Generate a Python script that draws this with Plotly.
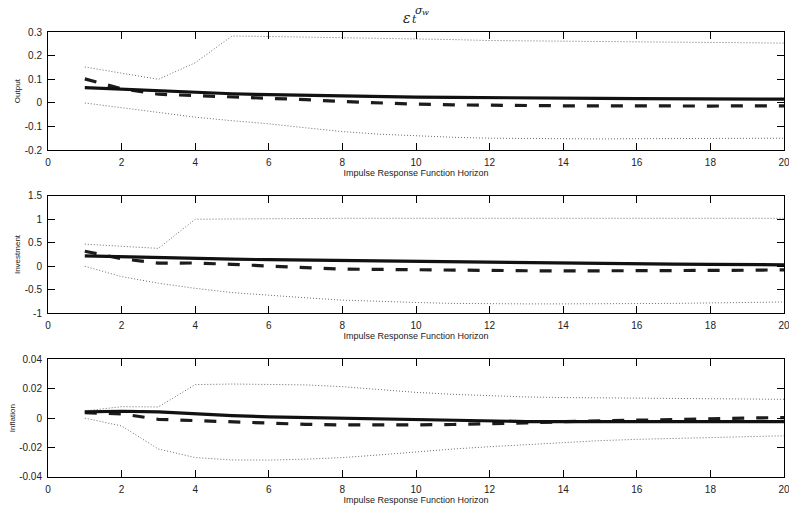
import plotly.graph_objects as go

horizon = list(range(1, 21))

output_solid = [0.065, 0.058, 0.050, 0.044, 0.039, 0.035, 0.032, 0.029, 0.027, 0.025,
                0.024, 0.022, 0.021, 0.020, 0.019, 0.018, 0.017, 0.017, 0.016, 0.016]
output_dashed = [0.102, 0.060, 0.037, 0.031, 0.027, 0.022, 0.014, 0.006, 0.0, -0.005,
                 -0.008, -0.010, -0.011, -0.012, -0.012, -0.013, -0.013, -0.013, -0.012, -0.012]
output_upper = [0.152, 0.126, 0.100, 0.170, 0.283, 0.281, 0.279, 0.277, 0.275, 0.272,
                0.268, 0.264, 0.262, 0.260, 0.259, 0.258, 0.257, 0.256, 0.255, 0.253]
output_lower = [0.0, -0.019, -0.040, -0.060, -0.075, -0.088, -0.105, -0.121, -0.132, -0.139,
                -0.145, -0.149, -0.151, -0.152, -0.152, -0.151, -0.151, -0.150, -0.150, -0.149]

invest_solid = [0.22, 0.20, 0.18, 0.165, 0.15, 0.14, 0.13, 0.12, 0.11, 0.10,
                0.09, 0.08, 0.07, 0.065, 0.06, 0.05, 0.045, 0.04, 0.035, 0.03]
invest_dashed = [0.32, 0.16, 0.065, 0.07, 0.04, 0.0, -0.03, -0.06, -0.07, -0.08,
                 -0.085, -0.09, -0.095, -0.1, -0.1, -0.1, -0.095, -0.09, -0.085, -0.075]
invest_upper = [0.47, 0.43, 0.38, 1.0, 1.01, 1.01, 1.015, 1.02, 1.02, 1.025,
                1.025, 1.025, 1.02, 1.02, 1.02, 1.02, 1.02, 1.02, 1.02, 1.02]
invest_lower = [0.0, -0.22, -0.36, -0.47, -0.56, -0.62, -0.67, -0.72, -0.75, -0.77,
                -0.79, -0.80, -0.80, -0.80, -0.80, -0.79, -0.79, -0.78, -0.77, -0.76]

infl_solid = [0.0042, 0.0047, 0.0042, 0.0028, 0.0017, 0.0009, 0.0004, 0.0, -0.0007, -0.0013,
              -0.0018, -0.0021, -0.0023, -0.0024, -0.0024, -0.0024, -0.0024, -0.0024, -0.0024, -0.0024]
infl_dashed = [0.0037, 0.0029, -0.0008, -0.0017, -0.0026, -0.0035, -0.0042, -0.0046, -0.0047, -0.0046,
               -0.0043, -0.0039, -0.0032, -0.0024, -0.0018, -0.0012, -0.0007, -0.0003, 0.0001, 0.0004]
infl_upper = [0.0049, 0.0078, 0.0076, 0.0228, 0.0232, 0.0231, 0.0226, 0.0214, 0.0195, 0.0175,
              0.0162, 0.0151, 0.0144, 0.0140, 0.0137, 0.0135, 0.0133, 0.0131, 0.0130, 0.0128]
infl_lower = [0.0, -0.0053, -0.021, -0.0268, -0.0284, -0.0285, -0.0279, -0.0268, -0.025, -0.0228,
              -0.021, -0.0194, -0.018, -0.0164, -0.0153, -0.0144, -0.0137, -0.013, -0.0125, -0.012]

x_ticks = [0, 2, 4, 6, 8, 10, 12, 14, 16, 18, 20]
x_ticklabels = ["0", "2", "4", "6", "8", "10", "12", "14", "16", "18", "20"]
output_ticks = [-0.2, -0.1, 0, 0.1, 0.2, 0.3]
output_ticklabels = ["-0.2", "-0.1", "0", "0.1", "0.2", "0.3"]
invest_ticks = [-1, -0.5, 0, 0.5, 1, 1.5]
invest_ticklabels = ["-1", "-0.5", "0", "0.5", "1", "1.5"]
infl_ticks = [-0.04, -0.02, 0, 0.02, 0.04]
infl_ticklabels = ["-0.04", "-0.02", "0", "0.02", "0.04"]

panels = [
    ("Output", output_solid, output_dashed, output_upper, output_lower,
     [-0.2, 0.3], output_ticks, output_ticklabels, [0.7342, 1.0]),
    ("Investment", invest_solid, invest_dashed, invest_upper, invest_lower,
     [-1, 1.5], invest_ticks, invest_ticklabels, [0.3679, 0.6321]),
    ("Inflation", infl_solid, infl_dashed, infl_upper, infl_lower,
     [-0.04, 0.04], infl_ticks, infl_ticklabels, [0.0, 0.2645]),
]

FONT = "Liberation Sans, Arial, Helvetica, sans-serif"
fig = go.Figure()
layout = {}
for i, (name, solid, dashed, upper, lower, yr, yt, ytl, dom) in enumerate(panels, start=1):
    xa = "x" if i == 1 else f"x{i}"
    ya = "y" if i == 1 else f"y{i}"
    for series, style in [
        (upper, dict(color="#6a6a6a", width=1, dash="1px,2px")),
        (lower, dict(color="#6a6a6a", width=1, dash="1px,2px")),
        (dashed, dict(color="#1c1c1c", width=3.2, dash="12px,12px")),
        (solid, dict(color="#111111", width=3.2)),
    ]:
        fig.add_trace(go.Scatter(x=horizon, y=series, mode="lines", line=style,
                                 xaxis=xa, yaxis=ya, showlegend=False, hoverinfo="skip",
                                 cliponaxis=False))
    axcommon = dict(showline=True, linecolor="#000", linewidth=1, mirror="ticks",
                    ticks="inside", ticklen=7, tickwidth=1, tickcolor="#000",
                    showgrid=False, zeroline=False, automargin=False,
                    ticklabeloverflow="allow", ticklabelstandoff=3,
                    tickfont=dict(family=FONT, size=10, color="#222"))
    layout["xaxis" if i == 1 else f"xaxis{i}"] = dict(
        axcommon, range=[0, 20], tickvals=x_ticks, ticktext=x_ticklabels,
        anchor=ya, domain=[0, 1],
        title=dict(text="Impulse Response Function Horizon",
                   font=dict(family=FONT, size=9, color="#222"), standoff=0))
    layout["yaxis" if i == 1 else f"yaxis{i}"] = dict(
        axcommon, range=yr, tickvals=yt, ticktext=ytl, anchor=xa, domain=dom,
        title=dict(text=name, font=dict(family=FONT, size=8, color="#222"), standoff=2))

TFONT = "DejaVu Serif, serif"
title_parts = [
    ("<i>ε</i>", 14, -9, 14),
    ("<i>t</i>", 11, -2, 13),
    ("<i>σ</i>", 11, 3, 22),
    ("<i>w</i>", 8, 9, 20),
]
fig.update_layout(**layout)
fig.update_layout(
    width=789, height=511,
    margin=dict(l=48, r=5, t=32, b=34, autoexpand=False),
    paper_bgcolor="white", plot_bgcolor="white",
    annotations=[dict(text=t, xref="paper", yref="paper", x=0.5, y=1.0,
                      xshift=dx, yshift=dy, xanchor="center", yanchor="middle",
                      showarrow=False, font=dict(family=TFONT, size=s, color="#222"))
                 for t, s, dx, dy in title_parts],
)
fig.write_html("out.html", config={"displayModeBar": False},
               post_script="document.body.style.margin='0';document.body.style.overflow='hidden';")
